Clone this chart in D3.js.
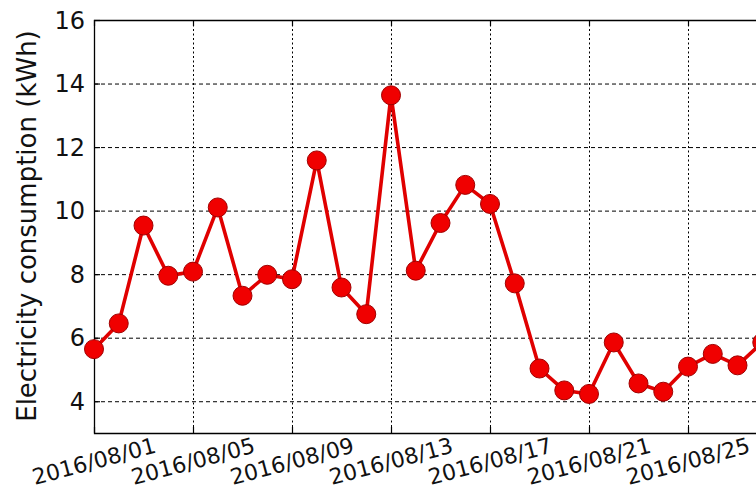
<!DOCTYPE html>
<html><head><meta charset="utf-8">
<script src="https://cdn.jsdelivr.net/npm/d3@7"></script>
<style>
html,body{margin:0;padding:0;background:#fff;overflow:hidden}
svg{display:block;font-family:"DejaVu Sans",sans-serif}
</style></head>
<body>
<svg id="c" width="756" height="489"></svg>
<script>
const dates = ["2016/08/01","2016/08/02","2016/08/03","2016/08/04","2016/08/05","2016/08/06","2016/08/07",
"2016/08/08","2016/08/09","2016/08/10","2016/08/11","2016/08/12","2016/08/13","2016/08/14","2016/08/15",
"2016/08/16","2016/08/17","2016/08/18","2016/08/19","2016/08/20","2016/08/21","2016/08/22","2016/08/23",
"2016/08/24","2016/08/25","2016/08/26","2016/08/27","2016/08/28"];
const values = [5.64,6.45,9.53,7.95,8.08,10.1,7.32,7.98,7.84,11.58,7.58,6.74,13.63,8.11,9.61,10.81,10.21,
7.71,5.03,4.34,4.23,5.85,4.56,4.30,5.09,5.49,5.13,5.85];
const xTickLabels = ["2016/08/01","2016/08/05","2016/08/09","2016/08/13","2016/08/17","2016/08/21","2016/08/25"];
const yTicks = [4,6,8,10,12,14,16];
const yLabel = "Electricity consumption (kWh)";

const parse = d3.timeParse("%Y/%m/%d");
const fmt = d3.timeFormat("%Y/%m/%d");
const svg = d3.select("#c");
const L = 94, T = 20, B = 433;
const x = d3.scaleTime().domain([parse("2016/08/01"), parse("2016/08/31")]).range([L, L + 30*24.75]);
const y = d3.scaleLinear().domain([3,16]).range([B, T]);
const R = x.range()[1];

const g = svg.append("g");
// grid
g.selectAll(".hg").data(yTicks).join("line")
  .attr("x1", L).attr("x2", R).attr("y1", d=>y(d)+0.5).attr("y2", d=>y(d)+0.5)
  .attr("stroke","#000").attr("stroke-width",1).attr("stroke-dasharray","4,3");
const xt = xTickLabels.map(parse);
g.selectAll(".vg").data(xt).join("line")
  .attr("x1", d=>Math.round(x(d))+0.5).attr("x2", d=>Math.round(x(d))+0.5).attr("y1", T).attr("y2", B)
  .attr("stroke","#000").attr("stroke-width",1).attr("stroke-dasharray","2,2.5");
// ticks inside
g.selectAll(".tb").data(xt).join("line")
  .attr("x1", d=>Math.round(x(d))+0.5).attr("x2", d=>Math.round(x(d))+0.5).attr("y1", B).attr("y2", B-6)
  .attr("stroke","#000").attr("stroke-width",1.2);
g.selectAll(".tt").data(xt).join("line")
  .attr("x1", d=>Math.round(x(d))+0.5).attr("x2", d=>Math.round(x(d))+0.5).attr("y1", T).attr("y2", T+6)
  .attr("stroke","#000").attr("stroke-width",1.2);
g.selectAll(".tl").data(yTicks).join("line")
  .attr("x1", L).attr("x2", L+6).attr("y1", d=>y(d)+0.5).attr("y2", d=>y(d)+0.5)
  .attr("stroke","#000").attr("stroke-width",1.2);
// spines
g.append("path").attr("d", `M${R},${T+0.5}H${L+0.5}V${B+0.5}H${R}`)
  .attr("fill","none").attr("stroke","#000").attr("stroke-width",1.3);

// y tick labels
g.selectAll(".yl").data(yTicks).join("text")
  .attr("x", 85).attr("y", d=>y(d)).attr("dy","0.36em").attr("text-anchor","end")
  .attr("font-size",24).attr("fill","#111").text(d=>d);
// x tick labels
g.selectAll(".xl").data(xt).join("text")
  .attr("transform", d=>`translate(${x(d)},${461}) rotate(-15)`)
  .attr("text-anchor","middle").attr("dy","0.36em")
  .attr("font-size",22).attr("fill","#111").text(d=>fmt(d));
// y label
svg.append("text").attr("transform","translate(36,226) rotate(-90)")
  .attr("text-anchor","middle").attr("font-size",26).attr("fill","#111").text(yLabel);

// data
const pts = dates.map((d,i)=>({d:parse(d), v:values[i]}));
g.append("path").datum(pts)
  .attr("d", d3.line().x(p=>x(p.d)).y(p=>y(p.v)))
  .attr("fill","none").attr("stroke","#e00000").attr("stroke-width",3.6).attr("stroke-linejoin","round");
g.selectAll(".pt").data(pts).join("circle")
  .attr("cx", p=>x(p.d)).attr("cy", p=>y(p.v)).attr("r",9.5)
  .attr("fill","#f00000").attr("stroke","#a00000").attr("stroke-width",1);
</script>
</body></html>
